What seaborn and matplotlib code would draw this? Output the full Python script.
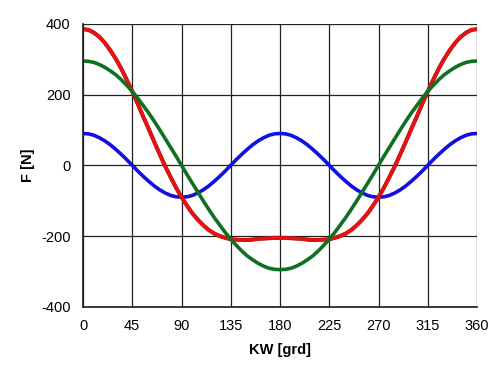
import numpy as np
import pandas as pd
import seaborn as sns
import matplotlib
matplotlib.use("Agg")
import matplotlib.pyplot as plt

angle = list(range(0, 361, 5))
green_half = [295, 294, 291, 285, 277, 267, 256, 242, 226, 209, 190, 169, 148, 125, 101, 76, 51, 26, 0,
              -26, -51, -76, -101, -125, -148, -169, -190, -209, -226, -242, -256, -267, -277, -285, -291, -294, -295]
blue_half = [90, 89, 85, 78, 69, 58, 45, 31, 16, 0, -16, -31, -45, -58, -69, -78, -85, -89, -90,
             -89, -85, -78, -69, -58, -45, -31, -16, 0, 16, 31, 45, 58, 69, 78, 85, 89, 90]
red_half = [385, 383, 375, 363, 346, 325, 301, 273, 242, 209, 174, 138, 103, 67, 32, -2, -33, -63, -90,
            -114, -136, -154, -170, -183, -193, -200, -205, -209, -210, -211, -211, -210, -208, -207, -206, -205, -205]
green = green_half + green_half[-2::-1]
blue = blue_half + blue_half[-2::-1]
red = red_half + red_half[-2::-1]

xticks = [0, 45, 90, 135, 180, 225, 270, 315, 360]
yticks = [-400, -200, 0, 200, 400]

sns.set_theme(style="white")
plt.rcParams['font.family'] = ['Liberation Sans', 'DejaVu Sans']
plt.rcParams['axes.unicode_minus'] = False

fig = plt.figure(figsize=(5.0, 3.67), dpi=100)
ax = fig.add_axes([0.166, 0.164, 0.788, 0.771])

df = pd.DataFrame({"KW": angle, "green": green, "blue": blue, "red": red})
sns.lineplot(data=df, x="KW", y="blue", ax=ax, color="#1010e0", lw=2.6)
sns.lineplot(data=df, x="KW", y="red", ax=ax, color="#8a1515", lw=2.9)
sns.lineplot(data=df, x="KW", y="red", ax=ax, color="#e81010", lw=2.5)
sns.lineplot(data=df, x="KW", y="green", ax=ax, color="#107020", lw=2.6)

ax.set_xlim(0, 360)
ax.set_ylim(-400, 400)
ax.set_xticks(xticks)
ax.set_yticks(yticks)
ax.grid(True, color="#222222", lw=0.9)
ax.set_axisbelow(True)
for s in ax.spines.values():
    s.set_visible(False)
ax.spines['left'].set_visible(True)
ax.spines['bottom'].set_visible(True)
ax.spines['left'].set_color("#222222")
ax.spines['bottom'].set_color("#222222")
ax.tick_params(axis='both', labelsize=10.5, colors='black', length=0, pad=9)
ax.set_xlabel("KW [grd]", fontsize=10.5, fontweight='bold', labelpad=7, color='black')
ax.set_ylabel("F [N]", fontsize=10.5, fontweight='bold', labelpad=4, color='black')

fig.savefig("out.png", dpi=100)
